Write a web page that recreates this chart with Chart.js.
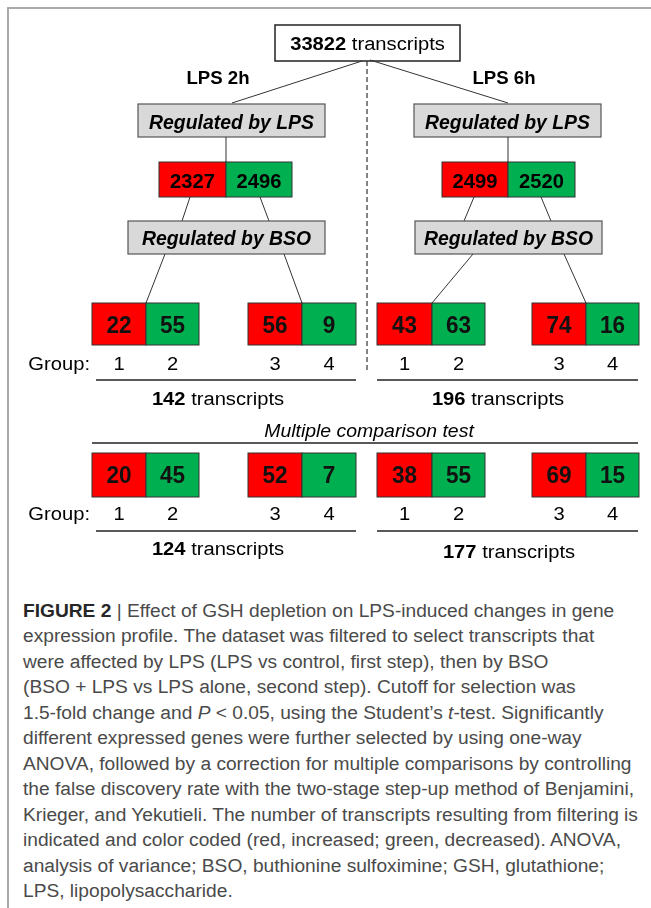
<!DOCTYPE html>
<html>
<head>
<meta charset="utf-8">
<script src="https://cdn.jsdelivr.net/npm/chart.js@4.4.1/dist/chart.umd.min.js"></script>
<style>
  body { margin: 0; background: #fff; width: 651px; height: 908px; overflow: hidden; position: relative;
         font-family: "Liberation Sans", Arial, sans-serif; }
  #frame { position: absolute; left: 7px; top: 7px; width: 700px; height: 960px;
           border-top: 2px solid #aaa; border-left: 2px solid #aaa; }
  #diagram { position: absolute; left: 0; top: 0; }
  #caption { position: absolute; left: 23px; top: 599px; color: #4a4a4a; font-size: 18px;
             line-height: 25.45px; white-space: nowrap; transform-origin: 0 0; }
  #caption b { color: #262626; }
</style>
</head>
<body>
<div id="frame"></div>
<canvas id="diagram" width="651" height="590"></canvas>
<div id="caption">
  <div><b>FIGURE 2</b> | Effect of GSH depletion on LPS-induced changes in gene</div>
  <div>expression profile. The dataset was filtered to select transcripts that</div>
  <div>were affected by LPS (LPS vs control, first step), then by BSO</div>
  <div>(BSO + LPS vs LPS alone, second step). Cutoff for selection was</div>
  <div>1.5-fold change and <i>P</i> &lt; 0.05, using the Student’s <i>t</i>-test. Significantly</div>
  <div>different expressed genes were further selected by using one-way</div>
  <div>ANOVA, followed by a correction for multiple comparisons by controlling</div>
  <div>the false discovery rate with the two-stage step-up method of Benjamini,</div>
  <div id="longest">Krieger, and Yekutieli. The number of transcripts resulting from filtering is</div>
  <div>indicated and color coded (red, increased; green, decreased). ANOVA,</div>
  <div>analysis of variance; BSO, buthionine sulfoximine; GSH, glutathione;</div>
  <div>LPS, lipopolysaccharide.</div>
</div>
<script>
// transcript counts
const totalTranscripts = 33822;
const timeLabels = ['LPS 2h', 'LPS 6h'];
const lpsUp = [2327, 2499];
const lpsDown = [2496, 2520];
const groupLabels = ['1', '2', '3', '4'];
const bsoCounts = [[22, 55, 56, 9], [43, 63, 74, 16]];
const bsoTotals = [142, 196];
const mctCounts = [[20, 45, 52, 7], [38, 55, 69, 15]];
const mctTotals = [124, 177];

const RED = '#ff0000';
const GREEN = '#00b050';
const GREY = '#d9d9d9';
const FONT = '"Liberation Sans", Arial, sans-serif';

// positions in diagram units (1 unit = 1 px of the original figure)
const layout = {
  top: { x0: 275, x1: 460, y0: 25, y1: 61, base: 50 },
  divider: { x: 367, y0: 61, y1: 372 },
  labelBase: 84,
  lpsBox: { y0: 104, y1: 137, base: 129 },
  pair: { y0: 162, y1: 197, base: 188 },
  bsoBox: { y0: 221, y1: 254, base: 245 },
  rows: [
    { y0: 303, y1: 345, base: 333, groupBase: 370, rule: 380, totalBase: 405 },
    { y0: 453, y1: 497, base: 483, groupBase: 520, rule: 531, totalBase: 555 }
  ],
  groupRight: 90,
  mct: { x: 369, base: 437, rule: 443, x0: 92, x1: 638 },
  sides: [
    { label: 218, lpsBox: [138, 325], stem: 226, pair: [159, 292], bsoBox: [128, 325],
      pairLegs: [[190, 182], [260, 269]], bsoLegs: [[165, 146], [284, 302]],
      cells: [92, 146, 199, 248, 302, 356], rule: [96, 356], totals: [218, 218], totalShift: [0, 0],
      topLeg: [362, 61, 232, 103] },
    { label: 504, lpsBox: [414, 601], stem: 508, pair: [442, 575], bsoBox: [415, 602],
      pairLegs: [[474, 464], [541, 551]], bsoLegs: [[473, 432], [564, 586]],
      cells: [377, 432, 485, 532, 586, 639], rule: [377, 638], totals: [498, 509], totalShift: [0, 3],
      topLeg: [370, 60, 508, 103] }
  ]
};

function drawRuns(ctx, runs, x, y, align, sx) {
  ctx.save();
  ctx.textBaseline = 'alphabetic';
  ctx.textAlign = 'left';
  let w = 0;
  runs.forEach(r => { ctx.font = r.font; w += ctx.measureText(r.s).width; });
  w *= sx;
  let left = align === 'center' ? x - w / 2 : align === 'right' ? x - w : x;
  ctx.translate(left, y);
  ctx.scale(sx, 1);
  let cx = 0;
  runs.forEach(r => {
    ctx.font = r.font;
    ctx.fillStyle = r.color || '#000';
    ctx.fillText(r.s, cx, 0);
    cx += ctx.measureText(r.s).width;
  });
  ctx.restore();
}

const diagramPlugin = {
  id: 'diagram',
  afterDraw(chart) {
    const ctx = chart.ctx;
    const xs = chart.scales.x, ys = chart.scales.y;
    const X = v => xs.getPixelForValue(v);
    const Y = v => ys.getPixelForValue(v);

    function line(x0, y0, x1, y1, color, width, dash) {
      ctx.save();
      ctx.strokeStyle = color; ctx.lineWidth = width;
      ctx.setLineDash(dash || []);
      ctx.beginPath(); ctx.moveTo(X(x0), Y(y0)); ctx.lineTo(X(x1), Y(y1)); ctx.stroke();
      ctx.restore();
    }
    function box(x0, y0, x1, y1, fill, stroke, width) {
      ctx.save();
      ctx.fillStyle = fill;
      ctx.fillRect(X(x0), Y(y0), X(x1) - X(x0), Y(y1) - Y(y0));
      ctx.strokeStyle = stroke; ctx.lineWidth = width;
      ctx.strokeRect(X(x0), Y(y0), X(x1) - X(x0), Y(y1) - Y(y0));
      ctx.restore();
    }

    // top box
    const t = layout.top;
    box(t.x0, t.y0, t.x1, t.y1, '#fff', '#222', 1.5);
    drawRuns(ctx, [{ s: String(totalTranscripts), font: 'bold 18px ' + FONT },
                   { s: ' transcripts', font: '18px ' + FONT }],
             X((t.x0 + t.x1) / 2), Y(t.base), 'center', 1.12);

    // dashed divider
    const d = layout.divider;
    line(d.x, d.y0, d.x, d.y1, '#333', 1.2, [5, 3]);

    layout.sides.forEach((s, i) => {
      line(s.topLeg[0], s.topLeg[1], s.topLeg[2], s.topLeg[3], '#333', 1);
      drawRuns(ctx, [{ s: timeLabels[i], font: 'bold 19px ' + FONT }], X(s.label), Y(layout.labelBase), 'center', 0.98);

      // regulated by LPS
      const lb = layout.lpsBox;
      box(s.lpsBox[0], lb.y0, s.lpsBox[1], lb.y1, GREY, '#555', 1.2);
      drawRuns(ctx, [{ s: 'Regulated by LPS', font: 'italic bold 20px ' + FONT }],
               X((s.lpsBox[0] + s.lpsBox[1]) / 2), Y(lb.base), 'center', 0.97);
      line(s.stem, lb.y1, s.stem, layout.pair.y0, '#333', 1);

      // LPS up / down pair
      const p = layout.pair;
      box(s.pair[0], p.y0, s.stem, p.y1, RED, '#333', 1);
      box(s.stem, p.y0, s.pair[1], p.y1, GREEN, '#333', 1);
      drawRuns(ctx, [{ s: String(lpsUp[i]), font: 'bold 21px ' + FONT }],
               X((s.pair[0] + s.stem) / 2), Y(p.base), 'center', 0.96);
      drawRuns(ctx, [{ s: String(lpsDown[i]), font: 'bold 21px ' + FONT }],
               X((s.stem + s.pair[1]) / 2), Y(p.base), 'center', 0.96);
      s.pairLegs.forEach(l => line(l[0], p.y1, l[1], layout.bsoBox.y0, '#333', 1));

      // regulated by BSO
      const bb = layout.bsoBox;
      box(s.bsoBox[0], bb.y0, s.bsoBox[1], bb.y1, GREY, '#555', 1.2);
      drawRuns(ctx, [{ s: 'Regulated by BSO', font: 'italic bold 20px ' + FONT }],
               X((s.bsoBox[0] + s.bsoBox[1]) / 2), Y(bb.base), 'center', 0.97);
      s.bsoLegs.forEach(l => line(l[0], bb.y1, l[1], layout.rows[0].y0, '#333', 1));

      // group rows
      [bsoCounts, mctCounts].forEach((counts, r) => {
        const row = layout.rows[r];
        const totals = r === 0 ? bsoTotals : mctTotals;
        for (let g = 0; g < 4; g++) {
          const k = Math.floor(g / 2) * 3 + (g % 2);
          const x0 = s.cells[k], x1 = s.cells[k + 1];
          box(x0, row.y0, x1, row.y1, g % 2 === 0 ? RED : GREEN, '#333', 1);
          drawRuns(ctx, [{ s: String(counts[i][g]), font: 'bold 23px ' + FONT, color: '#111' }],
                   X((x0 + x1) / 2), Y(row.base), 'center', 0.98);
          drawRuns(ctx, [{ s: groupLabels[g], font: '18px ' + FONT }],
                   X((x0 + x1) / 2), Y(row.groupBase), 'center', 1.12);
        }
        if (i === 0) {
          drawRuns(ctx, [{ s: 'Group:', font: '18px ' + FONT }], X(layout.groupRight), Y(row.groupBase), 'right', 1.12);
        }
        line(s.rule[0], row.rule, s.rule[1], row.rule, '#222', 1.5);
        drawRuns(ctx, [{ s: String(totals[i]), font: 'bold 18px ' + FONT },
                       { s: ' transcripts', font: '18px ' + FONT }],
                 X(s.totals[r]), Y(row.totalBase + s.totalShift[r]), 'center', 1.12);
      });
    });

    // multiple comparison test header
    const m = layout.mct;
    drawRuns(ctx, [{ s: 'Multiple comparison test', font: 'italic 18px ' + FONT }], X(m.x), Y(m.base), 'center', 1.08);
    line(m.x0, m.rule, m.x1, m.rule, '#222', 1.5);
  }
};

new Chart(document.getElementById('diagram').getContext('2d'), {
  type: 'scatter',
  data: { datasets: [] },
  options: {
    responsive: false,
    animation: false,
    layout: { padding: 0 },
    plugins: { legend: { display: false }, tooltip: { enabled: false } },
    scales: {
      x: { type: 'linear', min: 0, max: 651, display: false },
      y: { type: 'linear', min: 0, max: 590, reverse: true, display: false }
    }
  },
  plugins: [diagramPlugin]
});

// stretch the caption to the width of the printed figure
const cap = document.getElementById('caption');
const longest = document.getElementById('longest');
const sx = 615 / longest.scrollWidth;
cap.style.transform = 'scaleX(' + sx.toFixed(3) + ')';
</script>
</body>
</html>
